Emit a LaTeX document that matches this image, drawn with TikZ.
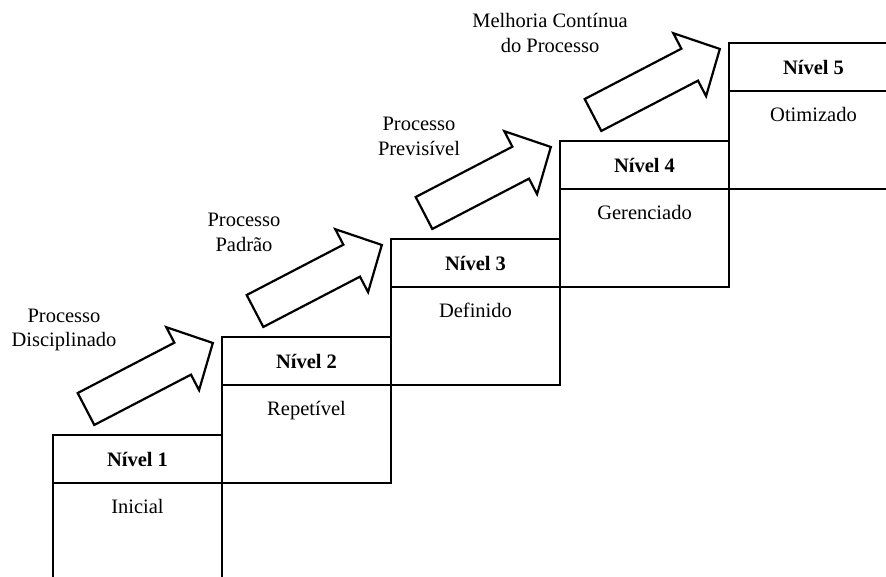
\documentclass[tikz,border=0pt]{standalone}
\usepackage{fontspec}
\setmainfont{Liberation Serif}
\usetikzlibrary{calc}
\tikzset{
  stepbox/.style={draw,line width=2.2pt,minimum width=169pt,minimum height=146pt,inner sep=0pt,outer sep=0pt,anchor=north west},
  lvl/.style={font=\fontsize{20.5}{24.5}\selectfont\bfseries,anchor=base},
  desc/.style={font=\fontsize{20.5}{24.5}\selectfont,anchor=base},
  lbl/.style={font=\fontsize{20.5}{24.5}\selectfont,align=center},
  blk/.style={draw,line width=2.2pt,fill=white,line join=miter},
}

\begin{document}
\begin{tikzpicture}[x=1pt,y=1pt]
\useasboundingbox (0,0) rectangle (886,577);
\clip (0,0) rectangle (886,577);
% the five steps
\foreach \i/\d in {1/Inicial,2/Repetível,3/Definido,4/Gerenciado,5/Otimizado}{
  \pgfmathsetmacro{\xl}{53+169*(\i-1)}
  \pgfmathsetmacro{\yt}{142+98*(\i-1)}
  \node[stepbox] (s\i) at (\xl,\yt) {};
  \draw[line width=2.2pt] ($(s\i.north west)+(0,-48)$) -- ($(s\i.north east)+(0,-48)$);
  \node[lvl] (n\i) at (\xl+84.5,\yt-32) {Nível \i};
  \node[desc] (d\i) at (\xl+84.5,\yt-79) {\d};
}
% block arrows between the steps
\foreach \i in {0,...,3}
  \draw[blk,shift={(86+169*\i,168+98*\i)},rotate=27.5]
    (0,-18) -- (109,-18) -- (109,-35.5) -- (143,0) -- (109,35.5) -- (109,18) -- (0,18) -- cycle;
\node[lbl] (p1) at (64,247) {Processo\\Disciplinado};
\node[lbl] (p2) at (244,344.5) {Processo\\Padrão};
\node[lbl] (p3) at (419,440.5) {Processo\\Previsível};
\node[lbl] (p4) at (550,544) {Melhoria Contínua\\do Processo};
\end{tikzpicture}
\end{document}
